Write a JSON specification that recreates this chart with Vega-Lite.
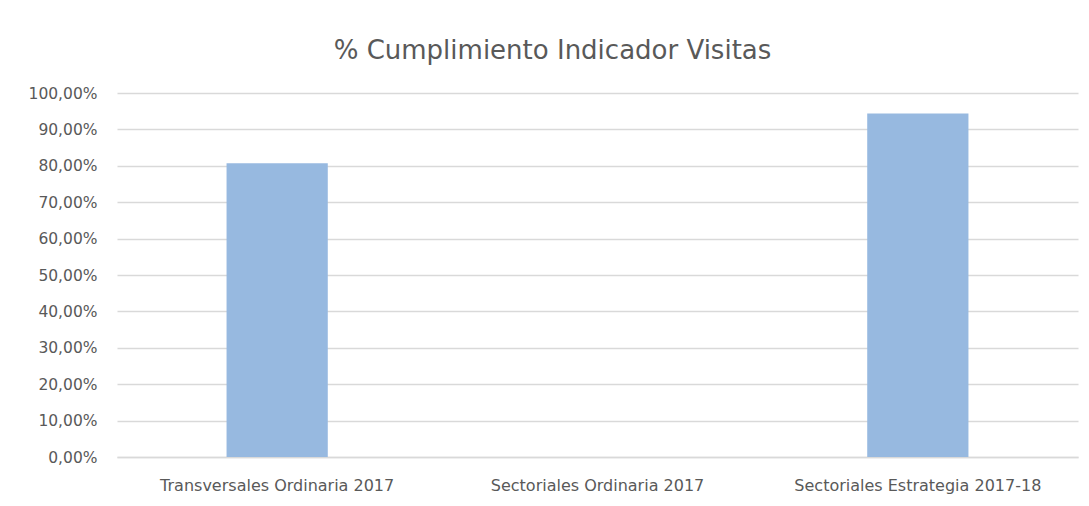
{
  "$schema": "https://vega.github.io/schema/vega-lite/v6.json",
  "width": 961,
  "height": 364,
  "autosize": {"type": "none"},
  "padding": {"left": 117, "top": 93, "right": 11, "bottom": 49},
  "background": "white",
  "config": {
    "locale": {"number": {"decimal": ",", "thousands": ".", "grouping": [3], "currency": ["", " €"]}},
    "view": {"stroke": null},
    "font": "DejaVu Sans"
  },
  "title": {
    "text": "% Cumplimiento Indicador Visitas",
    "font": "DejaVu Sans",
    "fontSize": 26,
    "fontWeight": "normal",
    "color": "#595959",
    "anchor": "middle",
    "dx": -45,
    "offset": 22
  },
  "data": {
    "values": [
      {"categoria": "Transversales Ordinaria 2017", "cumplimiento": 0.807},
      {"categoria": "Sectoriales Ordinaria 2017", "cumplimiento": 0},
      {"categoria": "Sectoriales Estrategia 2017-18", "cumplimiento": 0.944}
    ]
  },
  "mark": {"type": "bar", "color": "#97B9E0"},
  "encoding": {
    "x": {
      "field": "categoria",
      "type": "nominal",
      "sort": null,
      "title": null,
      "scale": {"paddingInner": 0.684, "paddingOuter": 0.342},
      "axis": {
        "labelAngle": 0,
        "labelFont": "DejaVu Sans",
        "labelFontSize": 16,
        "labelLimit": 0,
        "labelColor": "#595959",
        "labelPadding": 20,
        "ticks": false,
        "domain": true,
        "domainColor": "#D9D9D9",
        "domainWidth": 1.5
      }
    },
    "y": {
      "field": "cumplimiento",
      "type": "quantitative",
      "title": null,
      "scale": {"domain": [0, 1], "nice": false},
      "axis": {
        "values": [0, 0.1, 0.2, 0.3, 0.4, 0.5, 0.6, 0.7, 0.8, 0.9, 1],
        "format": ".2%",
        "labelFont": "DejaVu Sans",
        "labelFontSize": 15.5,
        "labelColor": "#595959",
        "labelPadding": 20,
        "ticks": false,
        "domain": false,
        "gridColor": "#D9D9D9",
        "gridWidth": 1.5
      }
    }
  }
}
